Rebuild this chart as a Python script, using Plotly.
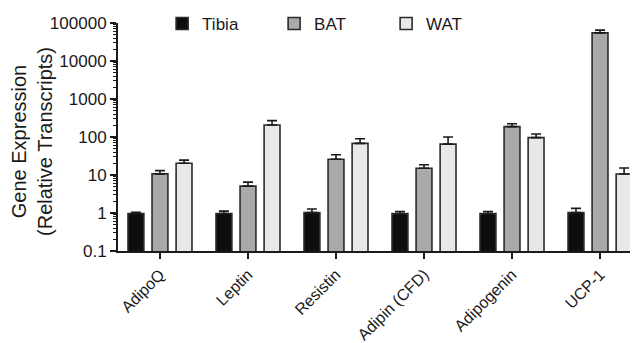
import plotly.graph_objects as go

categories = ["AdipoQ", "Leptin", "Resistin", "Adipin (CFD)", "Adipogenin", "UCP-1"]
tibia = [0.97, 0.97, 1.02, 0.96, 0.96, 1.02]
tibia_err = [0.08, 0.15, 0.25, 0.14, 0.14, 0.30]
bat = [10.7, 5.1, 26, 15, 187, 55000]
bat_err = [2.3, 1.4, 8, 3.6, 37, 10000]
wat = [20.4, 207, 68, 65, 96, 10.6]
wat_err = [4.2, 63, 22, 35, 24, 4.7]
y_tickvals = [0.1, 1, 10, 100, 1000, 10000, 100000]
y_ticktext = ["0.1", "1", "10", "100", "1000", "10000", "100000"]

FONT = "Liberation Sans, Arial, sans-serif"
INK = "#1a1a1a"

series = [
    ("Tibia", tibia, tibia_err, "#0d0d0d"),
    ("BAT", bat, bat_err, "#a9a9a9"),
    ("WAT", wat, wat_err, "#e8e8e8"),
]

fig = go.Figure()
for name, vals, errs, color in series:
    fig.add_trace(go.Bar(
        name=name, x=categories, y=vals,
        marker=dict(color=color, line=dict(color="#2b2b2b", width=1.6)),
        error_y=dict(type="data", array=errs, arrayminus=[0] * len(errs),
                     symmetric=False, color=INK, thickness=1.6, width=5),
    ))

# page body has an 8px default margin, so the figure is sized 630x335
fig.update_layout(
    width=630, height=335,
    margin=dict(l=110, r=1, t=15, b=92, autoexpand=False),
    paper_bgcolor="white", plot_bgcolor="white",
    barmode="group", bargap=0.18, bargroupgap=0.34,
    font=dict(family=FONT, size=17, color=INK),
    showlegend=True,
    legend=dict(orientation="h", x=0.085, xanchor="left", y=0.996, yanchor="middle",
                font=dict(size=17, family=FONT, color=INK),
                bgcolor="rgba(0,0,0,0)", entrywidth=67, entrywidthmode="pixels"),
    xaxis=dict(range=[-0.477, 5.42], showline=True, linecolor=INK, linewidth=2,
               ticks="outside", ticklen=6, tickwidth=1.6, tickcolor=INK,
               tickangle=-45, tickfont=dict(size=16, family=FONT, color=INK),
               showgrid=False, zeroline=False, fixedrange=True, automargin=False),
    yaxis=dict(type="log", range=[-1, 5], showline=True, linecolor=INK, linewidth=2,
               ticks="outside", ticklen=6, tickwidth=1.6, tickcolor=INK,
               tickvals=y_tickvals, ticktext=y_ticktext,
               tickfont=dict(size=17, family=FONT, color=INK),
               minor=dict(ticks="outside", ticklen=3, tickwidth=1, tickcolor=INK,
                          dtick="D1", showgrid=False),
               showgrid=False, zeroline=False, fixedrange=True, automargin=False),
    annotations=[dict(text="Gene Expression<br>(Relative Transcripts)",
                      xref="paper", yref="paper", x=-0.166, y=0.482,
                      xanchor="center", yanchor="middle", textangle=-90,
                      showarrow=False, font=dict(size=20, family=FONT, color=INK))],
)

fig.write_html("out.html")
